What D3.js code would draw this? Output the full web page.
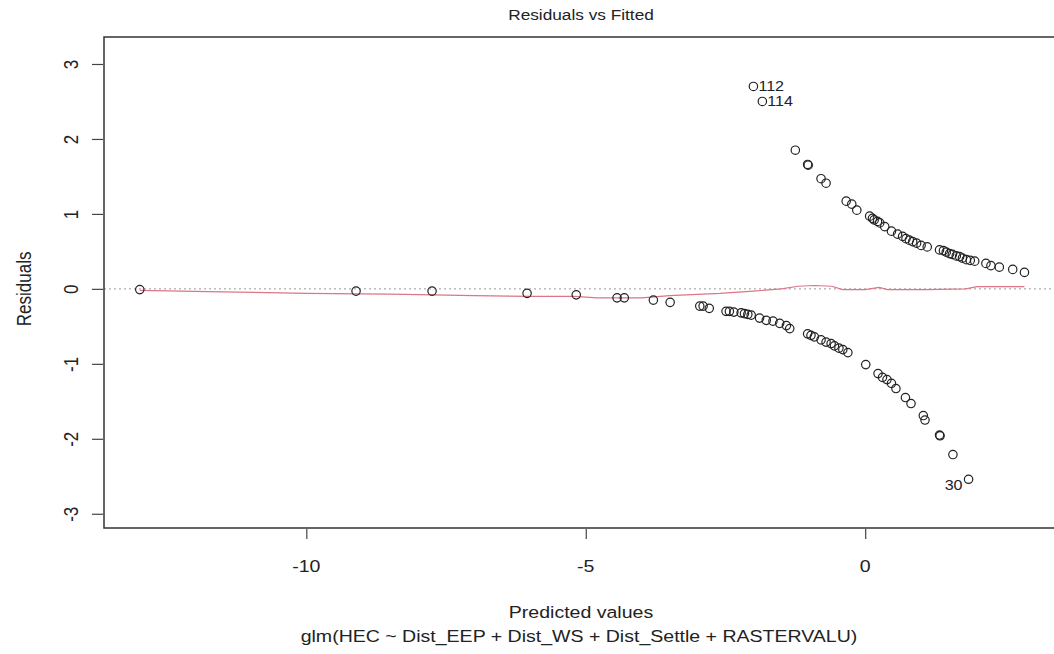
<!DOCTYPE html>
<html>
<head>
<meta charset="utf-8">
<script src="https://cdn.jsdelivr.net/npm/d3@7"></script>
<style>
  body { margin: 0; background: #fff; }
  text { font-family: "Liberation Sans", Arial, sans-serif; fill: #222; }
</style>
</head>
<body>
<div id="vis"></div>
<script>
// Residuals vs Fitted (R plot.lm style)
const FRAME_WIDTH = 1054;
const FRAME_HEIGHT = 654;
const MARGINS = {left: 104, right: -4, top: 37, bottom: 126};

// fitted values (linear predictor) and residuals
const FITTED = [
  -2.00, -1.84, -1.25, -1.03, -1.02, -0.79, -0.70, -0.34, -0.24, -0.15,
  0.08, 0.13, 0.16, 0.22, 0.26, 0.35, 0.47, 0.58, 0.67, 0.73,
  0.79, 0.85, 0.92, 1.00, 1.11, 1.33, 1.40, 1.45, 1.51, 1.56,
  1.63, 1.69, 1.74, 1.81, 1.88, 1.96, 2.16, 2.25, 2.40, 2.64, 2.85,
  -12.98, -9.11, -7.75, -6.05, -5.17, -4.44, -4.31, -3.79, -3.49, -2.96,
  -2.90, -2.79, -2.49, -2.43, -2.35, -2.22, -2.16, -2.10, -2.04, -1.89,
  -1.77, -1.65, -1.53, -1.41, -1.35, -1.03, -0.97, -0.91, -0.79, -0.70,
  -0.61, -0.55, -0.47, -0.40, -0.31, 0.01, 0.23, 0.31, 0.39, 0.47,
  0.55, 0.72, 0.82, 1.04, 1.07, 1.33, 1.34, 1.57, 1.85
];
const RESIDUALS = [
  2.70, 2.50, 1.85, 1.66, 1.65, 1.47, 1.41, 1.17, 1.13, 1.05,
  0.97, 0.94, 0.92, 0.90, 0.88, 0.83, 0.77, 0.73, 0.70, 0.67,
  0.65, 0.63, 0.61, 0.58, 0.56, 0.52, 0.51, 0.49, 0.47, 0.46,
  0.44, 0.43, 0.41, 0.39, 0.38, 0.37, 0.34, 0.31, 0.29, 0.26, 0.22,
  -0.01, -0.03, -0.03, -0.06, -0.08, -0.12, -0.12, -0.15, -0.18, -0.23,
  -0.23, -0.26, -0.30, -0.30, -0.31, -0.32, -0.33, -0.34, -0.35, -0.39,
  -0.42, -0.43, -0.46, -0.49, -0.53, -0.60, -0.62, -0.64, -0.68, -0.71,
  -0.73, -0.76, -0.79, -0.81, -0.85, -1.01, -1.13, -1.18, -1.21, -1.26,
  -1.33, -1.45, -1.53, -1.69, -1.75, -1.95, -1.96, -2.21, -2.54
];

// labelled observations: index into the arrays above, id, side of the point
const LABEL_INDEX = [0, 1, 89];
const LABEL_TEXT = ['112', '114', '30'];
const LABEL_SIDE = ['right', 'right', 'left'];

// red smoother
const SMOOTH_X = [-12.98, -11.5, -10.0, -8.5, -7.0, -6.0, -5.2, -4.8, -4.0, -3.5, -2.6, -2.0,
                  -1.5, -1.2, -0.9, -0.6, -0.4, 0.0, 0.25, 0.4, 1.1, 1.8, 2.0, 2.85];
const SMOOTH_Y = [-0.02, -0.04, -0.06, -0.07, -0.09, -0.10, -0.10, -0.12, -0.12, -0.09, -0.06, -0.03,
                  0.0, 0.035, 0.045, 0.035, -0.01, -0.01, 0.02, -0.01, -0.01, 0.0, 0.03, 0.03];

const X_TICKS = [-10, -5, 0];
const Y_TICKS = [-3, -2, -1, 0, 1, 2, 3];

const TITLE = 'Residuals vs Fitted';
const X_LABEL = 'Predicted values';
const SUB_LABEL = 'glm(HEC ~ Dist_EEP + Dist_WS + Dist_Settle + RASTERVALU)';
const Y_LABEL = 'Residuals';

const STRETCH = 1.15; // text in the reference looks widened

const X_SCALE = d3.scaleLinear()
                  .domain([-13.62, 3.45])
                  .range([MARGINS.left, FRAME_WIDTH - MARGINS.right]);
const Y_SCALE = d3.scaleLinear()
                  .domain([-3.19, 3.36])
                  .range([FRAME_HEIGHT - MARGINS.bottom, MARGINS.top]);

const FRAME = d3.select('#vis')
                .append('svg')
                  .attr('width', FRAME_WIDTH)
                  .attr('height', FRAME_HEIGHT);

function hText(x, y, str, size, anchor) {
  FRAME.append('text')
       .attr('transform', `translate(${x},${y}) scale(${STRETCH},1)`)
       .attr('text-anchor', anchor || 'middle')
       .attr('font-size', size)
       .text(str);
}

// zero reference line
FRAME.append('line')
     .attr('x1', X_SCALE.range()[0]).attr('x2', X_SCALE.range()[1])
     .attr('y1', Y_SCALE(0)).attr('y2', Y_SCALE(0))
     .attr('stroke', '#9a9a9a')
     .attr('stroke-width', 1)
     .attr('stroke-dasharray', '2,3');

// smoother
const smooth = d3.zip(SMOOTH_X, SMOOTH_Y);
FRAME.append('path')
     .datum(smooth)
     .attr('fill', 'none')
     .attr('stroke', '#dc7585')
     .attr('stroke-width', 1.2)
     .attr('d', d3.line().x(d => X_SCALE(d[0])).y(d => Y_SCALE(d[1])));

// points
FRAME.selectAll('.pt')
     .data(d3.zip(FITTED, RESIDUALS))
     .enter()
     .append('circle')
       .attr('class', 'pt')
       .attr('cx', d => X_SCALE(d[0]))
       .attr('cy', d => Y_SCALE(d[1]))
       .attr('r', 4.2)
       .attr('fill', 'none')
       .attr('stroke', '#222')
       .attr('stroke-width', 1.2);

// point ids
LABEL_INDEX.forEach((idx, i) => {
  const px = X_SCALE(FITTED[idx]);
  const py = Y_SCALE(RESIDUALS[idx]);
  if (LABEL_SIDE[i] === 'right') {
    hText(px + 5, py + 5, LABEL_TEXT[i], 14, 'start');
  } else {
    hText(px - 6, py + 11, LABEL_TEXT[i], 14, 'end');
  }
});

// box (right side runs off the picture)
const x0 = X_SCALE.range()[0], x1 = X_SCALE.range()[1];
const y0 = Y_SCALE.range()[1], y1 = Y_SCALE.range()[0];
FRAME.append('path')
     .attr('d', `M${x1},${y0}H${x0}V${y1}H${x1}Z`)
     .attr('fill', 'none')
     .attr('stroke', '#333')
     .attr('stroke-width', 1.5);

// x axis ticks
const xAxis = FRAME.append('g')
     .attr('transform', 'translate(0,' + (y1 + 1) + ')')
     .call(d3.axisBottom(X_SCALE).tickValues(X_TICKS).tickSize(10).tickFormat(''));
xAxis.select('.domain').remove();
xAxis.selectAll('line').attr('stroke', '#444').attr('stroke-width', 1.2);
X_TICKS.forEach(t => hText(X_SCALE(t), 572, String(t), 17));

// y axis ticks, labels parallel to axis
const yAxis = FRAME.append('g')
     .attr('transform', 'translate(' + (x0 - 1) + ',0)')
     .call(d3.axisLeft(Y_SCALE).tickValues(Y_TICKS).tickSize(11));
yAxis.select('.domain').remove();
yAxis.selectAll('line').attr('stroke', '#444').attr('stroke-width', 1.2);
yAxis.selectAll('text')
     .attr('x', null).attr('dy', null)
     .attr('transform', `translate(-25,0) rotate(-90) scale(1,${STRETCH})`)
     .attr('text-anchor', 'middle')
     .attr('font-size', 17)
     .attr('fill', '#222')
     .style('font-family', '"Liberation Sans", Arial, sans-serif')
     .text(d => String(d));

// titles
hText((x0 + x1) / 2, 20, TITLE, 15);
hText((x0 + x1) / 2, 618, X_LABEL, 17);
hText((x0 + x1) / 2 - 2, 642, SUB_LABEL, 17);
FRAME.append('text')
     .attr('transform', `translate(31,${Y_SCALE(0)}) rotate(-90) scale(1,${STRETCH})`)
     .attr('text-anchor', 'middle')
     .attr('font-size', 17)
     .text(Y_LABEL);
</script>
</body>
</html>
